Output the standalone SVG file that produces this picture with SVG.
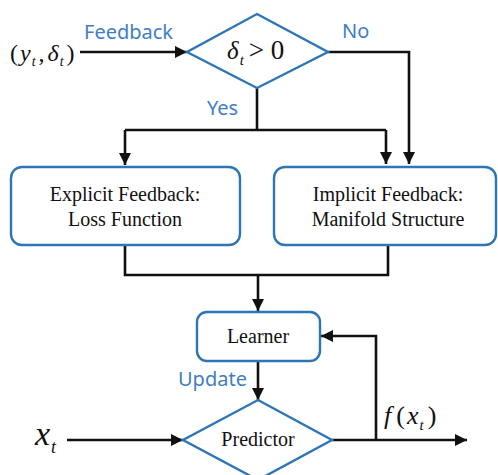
<svg xmlns="http://www.w3.org/2000/svg" width="498" height="475" viewBox="0 0 498 475">
<style>
.blk{fill:none;stroke:#111;stroke-width:2.6}
.node{fill:#fff;stroke:#2E75B6;stroke-width:2.4}
.lbl{font-family:'Liberation Serif','DejaVu Serif','Times New Roman',serif;font-size:20px;fill:#111;text-anchor:middle}
.blue{font-family:'Noto Sans','Liberation Sans',sans-serif;font-size:20px;fill:#3F7EC3}
.math{font-family:'Liberation Serif','DejaVu Serif','Times New Roman',serif;font-style:italic;fill:#111}
.up{font-style:normal}
</style>
<defs>
<marker id="ah" viewBox="0 0 12 12" refX="12" refY="6" markerWidth="12" markerHeight="12" markerUnits="userSpaceOnUse" orient="auto">
<path d="M0,0 L12,6 L0,12 Z" fill="#111"/>
</marker>
</defs>
<g id="connectors">
<path class="blk" d="M80,52 H187" marker-end="url(#ah)"/>
<path class="blk" d="M328,52 H409 V164" marker-end="url(#ah)"/>
<path class="blk" d="M257,88 V130"/>
<path class="blk" d="M125,130 H386"/>
<path class="blk" d="M125,130 V165" marker-end="url(#ah)"/>
<path class="blk" d="M386,130 V164" marker-end="url(#ah)"/>
<path class="blk" d="M125,245 V275 H388 V245"/>
<path class="blk" d="M258,275 V311" marker-end="url(#ah)"/>
<path class="blk" d="M258,361 V400" marker-end="url(#ah)"/>
<path class="blk" d="M67,440 H183" marker-end="url(#ah)"/>
<path class="blk" d="M332,440 H467" marker-end="url(#ah)"/>
<path class="blk" d="M376,440 V336 H321" marker-end="url(#ah)"/>
<text class="blue" x="84" y="39">Feedback</text>
<text class="blue" x="342" y="38">No</text>
<text class="blue" x="207" y="115">Yes</text>
<text class="blue" x="178" y="386">Update</text>
</g>
<g id="input">
<text class="math" x="10" y="61" font-size="24"><tspan class="up">(</tspan><tspan dx="2">y</tspan><tspan font-size="14" dy="5" dx="1">t</tspan><tspan class="up" dy="-5" dx="3">,</tspan><tspan dx="3">δ</tspan><tspan font-size="14" dy="5" dx="1">t</tspan><tspan class="up" dy="-5" dx="3">)</tspan></text>
</g>
<g id="decision">
<polygon class="node" points="257,14 328,52 257,88 187,52"/>
<text class="math" x="227" y="59" font-size="25">δ<tspan font-size="15" dy="6" dx="1">t</tspan><tspan class="up" dy="-6" dx="5" font-size="27">&gt; 0</tspan></text>
</g>
<g id="explicit">
<rect class="node" x="11" y="167" width="229" height="78" rx="11"/>
<text class="lbl" x="125" y="201">Explicit Feedback:</text>
<text class="lbl" x="125" y="226">Loss Function</text>
</g>
<g id="implicit">
<rect class="node" x="274" y="167" width="222" height="78" rx="11"/>
<text class="lbl" x="388" y="201">Implicit Feedback:</text>
<text class="lbl" x="388" y="226">Manifold Structure</text>
</g>
<g id="learner">
<rect class="node" x="197" y="312" width="123" height="49" rx="10"/>
<text class="lbl" x="258" y="343">Learner</text>
</g>
<g id="predictor">
<polygon class="node" points="258,400 332,440 258,480 183,440"/>
<text class="lbl" x="258" y="446">Predictor</text>
</g>
<g id="xt">
<text class="math" x="35" y="445" font-size="34">x<tspan font-size="18" dy="8" dx="1">t</tspan></text>
</g>
<g id="fxt">
<text class="math" x="384" y="424" font-size="26">f<tspan class="up" dx="5">(</tspan><tspan dx="2">x</tspan><tspan font-size="15" dy="6" dx="1">t</tspan><tspan class="up" dy="-6" dx="4">)</tspan></text>
</g>
</svg>
